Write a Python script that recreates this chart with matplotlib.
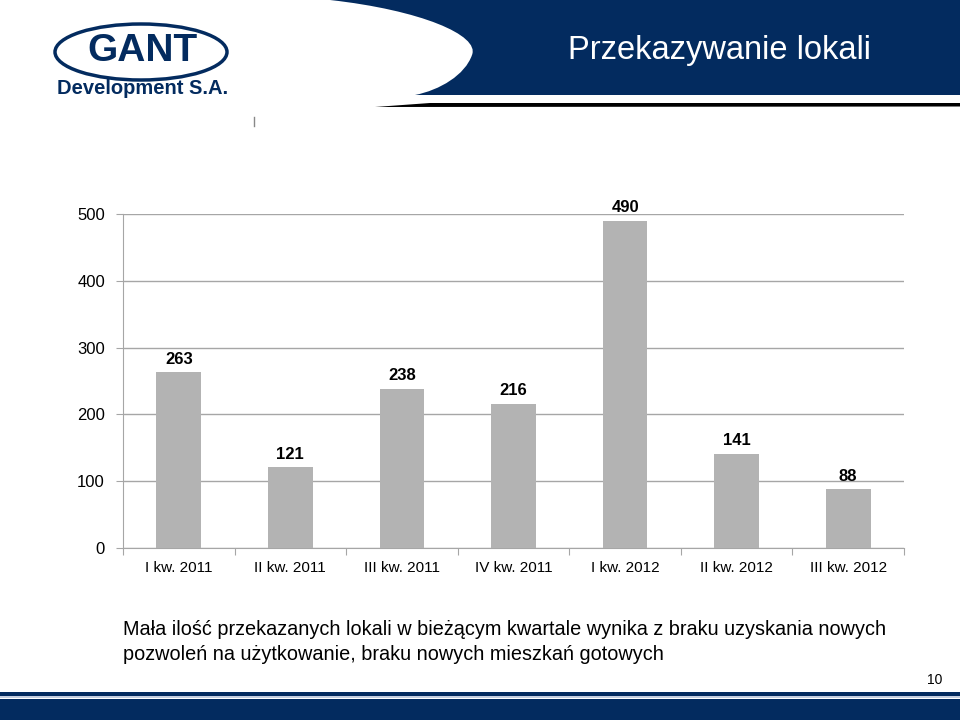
import matplotlib
matplotlib.use("Agg")
import matplotlib.pyplot as plt
from matplotlib.patches import Ellipse, PathPatch, Rectangle, Polygon
from matplotlib.path import Path

plt.rcParams['font.family'] = ['Liberation Sans', 'DejaVu Sans']

# data
quarters = ['I kw. 2011', 'II kw. 2011', 'III kw. 2011', 'IV kw. 2011',
            'I kw. 2012', 'II kw. 2012', 'III kw. 2012']
handed_over = [263, 121, 238, 216, 490, 141, 88]
y_ticks = [0, 100, 200, 300, 400, 500]

title = 'Przekazywanie lokali'
note = ('Mała ilość przekazanych lokali w bieżącym kwartale wynika z braku uzyskania nowych\n'
        'pozwoleń na użytkowanie, braku nowych mieszkań gotowych')
page_no = '10'

navy = '#032b5f'
grey_line = '#a6a6a6'
bar_col = '#b3b3b3'

fig = plt.figure(figsize=(9.6, 7.2), dpi=100)

# slide decoration in pixel coordinates
bg = fig.add_axes([0, 0, 1, 1])
bg.set_xlim(0, 960)
bg.set_ylim(720, 0)
bg.axis('off')

# header band with curved white cut-out
verts = [(330, 0), (420, 10), (480, 35), (472, 55),
         (465, 75), (440, 90), (415, 95),
         (960, 95), (960, 0), (330, 0)]
codes = [Path.MOVETO, Path.CURVE4, Path.CURVE4, Path.CURVE4,
         Path.CURVE4, Path.CURVE4, Path.CURVE4,
         Path.LINETO, Path.LINETO, Path.CLOSEPOLY]
bg.add_patch(PathPatch(Path(verts, codes), facecolor=navy, edgecolor='none'))
bg.add_patch(Polygon([(375, 107), (430, 103), (960, 103), (960, 106.5)],
                     closed=True, facecolor='black', edgecolor='none'))
bg.plot([254, 254], [117, 126], color='#888888', lw=1)

bg.text(720, 50, title, color='white', fontsize=23.5, ha='center', va='center')

# logo
bg.add_patch(Ellipse((141, 52), 172, 56, facecolor='none', edgecolor=navy, lw=2.5))
bg.text(142, 51, 'GANT', color=navy, fontsize=28, fontweight='bold', ha='center', va='center')
bg.text(143, 89, 'Development S.A.', color=navy, fontsize=14.5, fontweight='bold',
        ha='center', va='center')

# footer stripes
bg.add_patch(Rectangle((0, 691.5), 960, 4, facecolor=navy, edgecolor='none'))
bg.add_patch(Rectangle((0, 695.5), 960, 2, facecolor='#c5cfe0', edgecolor='none'))
bg.add_patch(Rectangle((0, 699), 960, 21, facecolor=navy, edgecolor='none'))
bg.text(942, 680, page_no, fontsize=10, ha='right', va='center')

bg.text(123, 642, note, fontsize=14.3, ha='left', va='center', linespacing=1.45)

# chart
ax = fig.add_axes([123 / 960, (720 - 548) / 720, 781 / 960, 334 / 720])
x = list(range(len(quarters)))
bars = ax.bar(x, handed_over, width=0.4, color=bar_col, zorder=3)
ax.bar_label(bars, padding=4, fontsize=12, fontweight='bold')

ax.set_xlim(-0.5, len(quarters) - 0.5)
ax.set_ylim(0, 500)
ax.set_yticks(y_ticks)
ax.tick_params(axis='y', labelsize=12, length=5, color=grey_line, pad=8)
ax.set_xticks([i - 0.5 for i in range(len(quarters) + 1)])
ax.set_xticklabels([])
ax.set_xticks(x, minor=True)
ax.set_xticklabels(quarters, minor=True)
ax.tick_params(axis='x', which='major', length=5, color=grey_line)
ax.tick_params(axis='x', which='minor', length=0, labelsize=11, pad=9)
ax.grid(axis='y', color=grey_line, lw=1, zorder=0)
for s in ['top', 'right']:
    ax.spines[s].set_visible(False)
for s in ['left', 'bottom']:
    ax.spines[s].set_color(grey_line)

fig.savefig('out.png', dpi=100)
